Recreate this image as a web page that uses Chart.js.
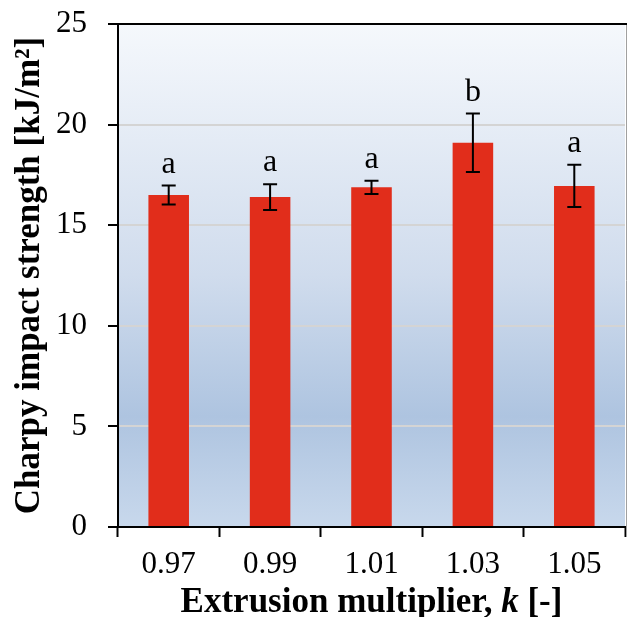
<!DOCTYPE html>
<html>
<head>
<meta charset="utf-8">
<script src="https://cdn.jsdelivr.net/npm/chart.js@4.4.0/dist/chart.umd.min.js"></script>
<style>
html, body { margin: 0; padding: 0; background: #fff; }
</style>
</head>
<body>
<canvas id="chart" width="627" height="617"></canvas>
<script>
// values
const categories = ['0.97', '0.99', '1.01', '1.03', '1.05']
const strength = [16.5, 16.4, 16.88, 19.1, 16.95]
const strengthSd = [0.47, 0.64, 0.33, 1.45, 1.05]
const groups = ['a', 'a', 'a', 'b', 'a']

const serif = '"Liberation Serif", "Times New Roman", serif'

const background = {
    id: 'background',
    beforeDraw(chart) {
        const {ctx, chartArea: a} = chart
        const g = ctx.createLinearGradient(0, a.top, 0, a.bottom)
        g.addColorStop(0, '#f5f8fc')
        g.addColorStop(0.5, '#d0dced')
        g.addColorStop(0.78, '#aec4e0')
        g.addColorStop(1, '#c8d8ec')
        ctx.save()
        ctx.fillStyle = g
        ctx.fillRect(a.left, a.top, a.right - a.left, a.bottom - a.top)
        ctx.restore()
    }
}

const errorBars = {
    id: 'errorBars',
    afterDatasetsDraw(chart) {
        const {ctx} = chart
        const y = chart.scales.y
        const meta = chart.getDatasetMeta(0)
        ctx.save()
        ctx.strokeStyle = '#000'
        ctx.lineWidth = 2
        ctx.fillStyle = '#000'
        ctx.font = '32px ' + serif
        ctx.textAlign = 'center'
        ctx.textBaseline = 'alphabetic'
        for (let i = 0; i < strength.length; i++) {
            const x = meta.data[i].x
            const top = y.getPixelForValue(strength[i] + strengthSd[i])
            const bot = y.getPixelForValue(strength[i] - strengthSd[i])
            ctx.beginPath()
            ctx.moveTo(x, top)
            ctx.lineTo(x, bot)
            ctx.moveTo(x - 7, top)
            ctx.lineTo(x + 7, top)
            ctx.moveTo(x - 7, bot)
            ctx.lineTo(x + 7, bot)
            ctx.stroke()
            ctx.fillText(groups[i], x, top - 13)
        }
        ctx.restore()
    }
}

const frame = {
    id: 'frame',
    afterDraw(chart) {
        const {ctx, chartArea: a} = chart
        ctx.save()
        ctx.strokeStyle = '#a0a0a0'
        ctx.lineWidth = 1
        ctx.beginPath()
        ctx.moveTo(a.right + 1.5, a.top)
        ctx.lineTo(a.right + 1.5, a.bottom + 10)
        ctx.stroke()
        ctx.strokeStyle = '#000'
        ctx.lineWidth = 2
        ctx.beginPath()
        ctx.moveTo(a.left - 10, a.top)
        ctx.lineTo(chart.width, a.top)
        ctx.stroke()

        // x axis title, with italic k
        const parts = [
            ['Extrusion multiplier, ', 'bold 35px ' + serif],
            ['k', 'italic bold 35px ' + serif],
            [' [-]', 'bold 35px ' + serif]
        ]
        let total = 0
        for (const p of parts) {
            ctx.font = p[1]
            total += ctx.measureText(p[0]).width
        }
        let x = (a.left + a.right) / 2 - total / 2
        ctx.fillStyle = '#000'
        ctx.textBaseline = 'alphabetic'
        ctx.textAlign = 'left'
        for (const p of parts) {
            ctx.font = p[1]
            ctx.fillText(p[0], x, 612)
            x += ctx.measureText(p[0]).width
        }
        ctx.restore()
    }
}

new Chart(document.getElementById('chart'), {
    type: 'bar',
    data: {
        labels: categories,
        datasets: [{
            data: strength,
            backgroundColor: '#e12d1b',
            borderWidth: 0,
            categoryPercentage: 1,
            barPercentage: 0.4
        }]
    },
    options: {
        responsive: false,
        animation: false,
        layout: {padding: {top: 24, right: 2, left: 0, bottom: 0}},
        plugins: {
            legend: {display: false},
            tooltip: {enabled: false}
        },
        scales: {
            x: {
                offset: true,
                grid: {
                    offset: true,
                    drawOnChartArea: false,
                    tickLength: 10,
                    tickColor: '#000',
                    tickWidth: 2
                },
                border: {color: '#000', width: 2},
                ticks: {
                    color: '#000',
                    font: {family: serif, size: 31},
                    padding: 9
                },
                afterFit(scale) {
                    scale.height = 90
                    scale.paddingLeft = 0
                    scale.paddingRight = 0
                }
            },
            y: {
                min: 0,
                max: 25,
                ticks: {
                    stepSize: 5,
                    color: '#000',
                    font: {family: serif, size: 31},
                    padding: 21
                },
                grid: {
                    color: c => (c.tick && (c.tick.value === 0 || c.tick.value === 25)) ? 'rgba(0,0,0,0)' : '#d4d4d4',
                    lineWidth: 2,
                    tickLength: 10,
                    tickColor: '#000',
                    tickWidth: 2
                },
                border: {color: '#000', width: 2},
                title: {
                    display: true,
                    text: 'Charpy impact strength [kJ/m²]',
                    color: '#000',
                    font: {family: serif, size: 35, weight: 'bold'},
                    padding: {top: 9, bottom: 0}
                },
                afterFit(scale) {
                    scale.width = 118
                    scale.paddingTop = 0
                    scale.paddingBottom = 0
                }
            }
        }
    },
    plugins: [background, errorBars, frame]
})
</script>
</body>
</html>
